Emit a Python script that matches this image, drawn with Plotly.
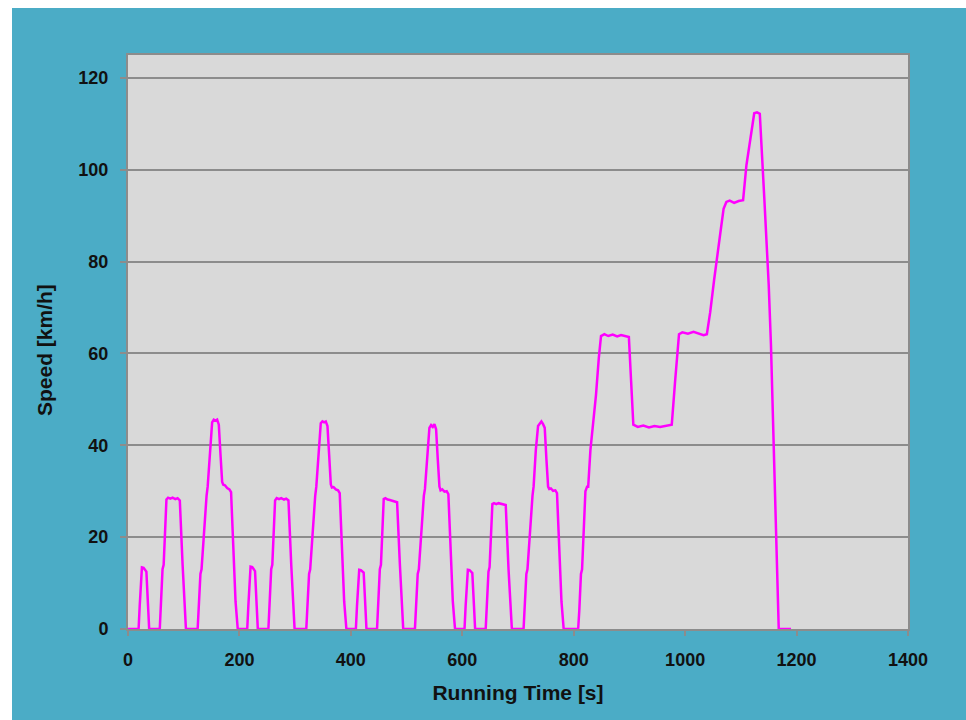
import plotly.graph_objects as go

# ---- data (time [s], speed [km/h]) ----
ece1_t = [0, 19, 21, 23, 25, 28, 31, 33, 36, 38,
          57, 60, 62, 64, 67, 69, 72, 76, 80, 85, 89, 93, 98, 104,
          125, 128, 130, 132, 136, 141, 143, 147, 151, 154, 157, 160, 163, 166, 169, 171,
          174, 178, 182, 185, 189, 193, 197]
ece1_v = [0, 0, 5, 10, 13.4, 13.3, 12.8, 12.5, 5, 0,
          0, 8, 13, 14, 23, 28.2, 28.6, 28.4, 28.6, 28.3, 28.5, 28.0, 14, 0,
          0, 8, 12, 13, 21, 29, 31, 39, 45, 45.6, 45.4, 45.6, 44.5, 38, 32, 31.4,
          31.3, 30.7, 30.4, 29.8, 18, 6, 0]

ece2_t = [214, 216, 218, 220, 223, 226, 228, 231, 233,
          252, 255, 257, 259, 262, 264, 267, 271, 275, 280, 284, 288, 293, 299,
          320, 323, 325, 327, 331, 336, 338, 342, 346, 349, 352, 355, 358, 361, 364, 366,
          369, 373, 377, 380, 384, 388, 392]
ece2_v = [0, 5, 10, 13.6, 13.5, 13.0, 12.6, 5, 0,
          0, 8, 13, 14, 23, 28.0, 28.5, 28.3, 28.5, 28.2, 28.4, 28.0, 14, 0,
          0, 8, 12, 13, 21, 29, 31, 39, 44.8, 45.2, 45.0, 45.2, 44.2, 38, 31.5, 30.8,
          30.9, 30.4, 30.2, 29.6, 18, 6, 0]

ece3_t = [409, 411, 413, 415, 418, 421, 423, 426, 428,
          447, 450, 452, 454, 457, 459, 462, 466, 470, 475, 479, 483, 488, 494,
          515, 518, 520, 522, 526, 531, 533, 537, 541, 544, 547, 550, 553, 556, 559, 561,
          564, 568, 572, 575, 579, 583, 587]
ece3_v = [0, 5, 10, 12.9, 12.8, 12.6, 12.3, 5, 0,
          0, 8, 13, 14, 23, 28.3, 28.5, 28.2, 28.1, 27.9, 27.8, 27.6, 14, 0,
          0, 8, 12, 13, 21, 29, 30.5, 38, 43.8, 44.4, 44.0, 44.6, 43.5, 37, 31, 30.2,
          30.4, 29.9, 30.0, 29.4, 18, 6, 0]

ece4_t = [604, 606, 608, 610, 613, 616, 618, 621, 623,
          642, 645, 647, 649, 652, 654, 657, 661, 665, 670, 674, 678, 683, 689,
          710, 713, 715, 717, 721, 726, 728, 732, 736, 739, 742, 745, 748, 751, 754, 756,
          759, 763, 767, 770, 774, 778, 782]
ece4_v = [0, 5, 10, 12.9, 12.8, 12.5, 12.2, 5, 0,
          0, 8, 12.5, 13.5, 22, 27.2, 27.4, 27.2, 27.4, 27.3, 27.2, 27.0, 13, 0,
          0, 8, 12, 13, 21, 29, 31, 39, 44.2, 44.8, 45.2, 44.6, 43.8, 37, 31, 30.5,
          30.6, 30.1, 30.2, 29.6, 18, 6, 0]

eudc_t = [808, 810, 813, 815, 818, 821, 824, 826, 830, 834, 836, 840, 845, 849,
          855, 862, 870, 878, 885, 892, 899, 903, 907,
          915, 925, 935, 945, 955, 965, 976, 982, 989,
          995, 1005, 1015, 1025, 1033, 1039, 1045, 1052, 1058, 1064, 1069, 1074,
          1080, 1088, 1096, 1104, 1110, 1116, 1121, 1124, 1129, 1134,
          1142, 1150, 1154, 1158, 1163, 1168, 1190]
eudc_v = [0, 4, 12, 13, 22, 30, 31, 31, 39, 44, 45, 51, 59, 63.8,
          64.2, 63.8, 64.1, 63.7, 64.0, 63.8, 63.6, 54, 44.5,
          44.0, 44.3, 43.9, 44.2, 44.0, 44.3, 44.5, 54, 64.2,
          64.6, 64.3, 64.7, 64.3, 64.0, 64.2, 69, 76, 81, 87, 91.5, 93,
          93.3, 92.8, 93.2, 93.4, 101, 106, 110, 112.3, 112.5, 112.2,
          94, 75, 62, 46, 22, 0, 0]

x_ticks = [0, 200, 400, 600, 800, 1000, 1200, 1400]
y_ticks = [0, 20, 40, 60, 80, 100, 120]

time_s = ece1_t + ece2_t + ece3_t + ece4_t + eudc_t
speed = ece1_v + ece2_v + ece3_v + ece4_v + eudc_v

TEAL = "#4BACC6"
GRID = "#8C8C8C"
FONT = "Liberation Sans, Arial, sans-serif"

# full page figure; white border (12 px left, 8 px top) drawn as shapes
W, H = 966, 720
ML, MR, MT, MB = 128, 58, 55, 91
PW, PH = W - ML - MR, H - MT - MB

fig = go.Figure(
    go.Scatter(x=time_s, y=speed, mode="lines",
               line=dict(color="#FF00FF", width=2.5), hoverinfo="x+y")
)

fig.update_layout(
    width=W, height=H,
    margin=dict(l=ML, r=MR, t=MT, b=MB, pad=0),
    paper_bgcolor=TEAL,
    plot_bgcolor="#D9D9D9",
    showlegend=False,
    font=dict(family=FONT, color="#111111"),
    xaxis=dict(
        range=[0, 1400], tickvals=x_ticks, ticktext=[str(v) for v in x_ticks],
        ticks="outside", ticklen=5, tickwidth=1.5, tickcolor=GRID,
        showgrid=False, zeroline=False,
        showline=True, linecolor=GRID, linewidth=2, mirror=True,
        tickfont=dict(size=18, weight="bold", color="#111111"),
        ticklabelstandoff=8,
        title=dict(text="Running Time [s]", font=dict(size=21, weight="bold", color="#111111"),
                   standoff=17),
    ),
    yaxis=dict(
        range=[0, 125], tickvals=y_ticks, ticktext=[str(v) for v in y_ticks],
        ticks="outside", ticklen=6, tickwidth=1.5, tickcolor=GRID,
        showgrid=True, gridcolor=GRID, gridwidth=2, zeroline=False,
        showline=True, linecolor=GRID, linewidth=2, mirror=True,
        tickfont=dict(size=18, weight="bold", color="#111111"),
        ticklabelstandoff=8,
    ),
)

# y-axis title placed as a rotated annotation (slightly below plot centre, as in the reference)
fig.add_annotation(text="Speed [km/h]", textangle=-90, showarrow=False,
                   xref="paper", yref="paper",
                   x=(44 - ML) / PW, y=(H - MB - 350) / PH,
                   xanchor="center", yanchor="middle",
                   font=dict(size=21, weight="bold", color="#111111", family=FONT))

# white page border: 12 px on the left, 8 px at the top
fig.add_shape(type="rect", xref="paper", yref="paper",
              x0=(0 - ML) / PW, x1=(12 - ML) / PW, y0=-1, y1=2,
              fillcolor="white", line=dict(width=0), layer="above")
fig.add_shape(type="rect", xref="paper", yref="paper",
              x0=-1, x1=2, y0=(H - MB) / PH, y1=(H - MB - 8) / PH,
              fillcolor="white", line=dict(width=0), layer="above")

fig.write_html("out.html", config={"displayModeBar": False},
               post_script="document.body.style.margin='0';")
